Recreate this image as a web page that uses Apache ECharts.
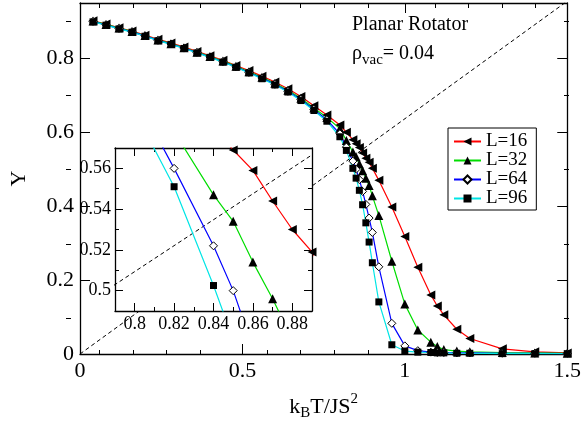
<!DOCTYPE html>
<html>
<head>
<meta charset="utf-8">
<script src="https://cdn.jsdelivr.net/npm/echarts@6/dist/echarts.min.js"></script>
<style>
  html, body { margin: 0; padding: 0; background: #fff; }
  #chart { width: 584px; height: 426px; }
</style>
</head>
<body>
<div id="chart"></div>
<script>
// temperature points (k_B T / J S^2), shared by all four sizes
const temps = [0.04, 0.08, 0.12, 0.16, 0.20, 0.24, 0.28, 0.32, 0.36, 0.40,
  0.44, 0.48, 0.52, 0.56, 0.60, 0.64, 0.68, 0.72, 0.76, 0.80,
  0.82, 0.84, 0.85, 0.86, 0.87, 0.88, 0.89, 0.90, 0.92, 0.96,
  1.00, 1.04, 1.08, 1.10, 1.12, 1.16, 1.20, 1.30, 1.40, 1.50]

// helicity modulus Y for each lattice size
const yL16 = [0.902, 0.893, 0.883, 0.874, 0.863, 0.852, 0.842, 0.831, 0.819, 0.807,
  0.795, 0.781, 0.767, 0.752, 0.736, 0.718, 0.697, 0.672, 0.647, 0.620,
  0.600, 0.580, 0.569, 0.559, 0.544, 0.530, 0.519, 0.503, 0.470, 0.398,
  0.318, 0.235, 0.160, 0.130, 0.106, 0.067, 0.042, 0.014, 0.006, 0.003]
const yL32 = [0.901, 0.892, 0.882, 0.873, 0.862, 0.850, 0.840, 0.829, 0.817, 0.805,
  0.793, 0.779, 0.764, 0.749, 0.733, 0.714, 0.692, 0.666, 0.640, 0.610,
  0.578, 0.547, 0.534, 0.514, 0.496, 0.476, 0.456, 0.428, 0.375, 0.251,
  0.135, 0.065, 0.032, 0.020, 0.012, 0.008, 0.006, 0.004, 0.003, 0.002]
const yL64 = [0.900, 0.891, 0.881, 0.872, 0.861, 0.849, 0.839, 0.828, 0.816, 0.804,
  0.791, 0.777, 0.762, 0.747, 0.730, 0.711, 0.689, 0.662, 0.634, 0.596,
  0.560, 0.522, 0.500, 0.472, 0.440, 0.405, 0.368, 0.329, 0.236, 0.083,
  0.022, 0.009, 0.005, 0.004, 0.004, 0.003, 0.003, 0.002, 0.002, 0.001]
const yL96 = [0.899, 0.890, 0.880, 0.871, 0.860, 0.848, 0.838, 0.827, 0.815, 0.803,
  0.790, 0.776, 0.761, 0.745, 0.728, 0.709, 0.686, 0.659, 0.630, 0.588,
  0.551, 0.5025, 0.476, 0.443, 0.404, 0.355, 0.303, 0.247, 0.141, 0.025,
  0.008, 0.005, 0.004, 0.003, 0.003, 0.002, 0.002, 0.001, 0.001, 0.001]

// universal jump line Y = 2T/pi, end points
const jumpT = [0, 1.5]
const jumpY = [0, 0.955]

// tick positions
const mainXMajor = [0, 0.5, 1, 1.5]
const mainXMinor = [0.1, 0.2, 0.3, 0.4, 0.6, 0.7, 0.8, 0.9, 1.1, 1.2, 1.3, 1.4]
const mainYMajor = [0, 0.2, 0.4, 0.6, 0.8]
const mainYMinor = [0.1, 0.3, 0.5, 0.7, 0.9]
const insetXMajor = [0.8, 0.82, 0.84, 0.86, 0.88]
const insetXMinor = [0.81, 0.83, 0.85, 0.87]
const insetYMajor = [0.5, 0.52, 0.54, 0.56]
const insetYMinor = [0.51, 0.53, 0.55]

const serif = '"Liberation Serif", "DejaVu Serif", serif'
const chart = echarts.init(document.getElementById('chart'))

function axis (o) {
  return {
    type: 'value',
    gridIndex: o.grid,
    position: o.pos,
    min: o.min,
    max: o.max,
    z: o.z || 0,
    axisLine: { show: !!o.line, onZero: false, lineStyle: { color: '#000', width: 1.3 } },
    axisTick: { show: true, inside: true, length: o.len, customValues: o.ticks, lineStyle: { color: '#000', width: 1 } },
    axisLabel: o.labels
      ? { show: true, customValues: o.ticks, margin: o.margin, color: '#000', fontFamily: serif, fontSize: o.fs }
      : { show: false },
    splitLine: { show: false },
    name: o.name || '',
    nameLocation: 'middle',
    nameGap: o.nameGap,
    nameTextStyle: o.nameStyle
  }
}

const leftTri = 'path://M0,5L10,0L10,10Z'

function curve (name, ys, color, symbol, size, fill, idx, z) {
  return {
    type: 'line',
    name: name,
    xAxisIndex: idx,
    yAxisIndex: idx,
    data: temps.map((t, i) => [t, ys[i]]),
    symbol: symbol,
    symbolSize: size,
    z: z,
    lineStyle: { color: color, width: 1.2 },
    itemStyle: { color: fill, borderColor: '#000', borderWidth: fill === '#fff' ? 1 : 0 },
    emphasis: { disabled: true }
  }
}

function jump (idx, z) {
  return {
    type: 'line',
    xAxisIndex: idx,
    yAxisIndex: idx,
    data: jumpT.map((t, i) => [t, jumpY[i]]),
    symbol: 'none',
    z: z,
    lineStyle: { color: '#000', width: 1, type: [4, 3] },
    emphasis: { disabled: true }
  }
}

const mainRect = { left: 66, top: 3, width: 503, height: 352 }
const insetRect = { left: 115, top: 148, width: 197, height: 163 }

const option = {
  animation: false,
  backgroundColor: '#fff',
  title: [
    { text: 'Planar Rotator', left: 352, top: 15, padding: 0,
      textStyle: { fontFamily: serif, fontSize: 20, fontWeight: 'normal', color: '#000' } },
    { text: '{r|ρ}{s|vac}{r|= 0.04}', left: 352, top: 44, padding: 0,
      textStyle: { fontFamily: serif, fontSize: 20, fontWeight: 'normal', color: '#000',
        rich: {
          r: { fontFamily: serif, fontSize: 20, color: '#000', verticalAlign: 'top' },
          s: { fontFamily: serif, fontSize: 15, color: '#000', verticalAlign: 'top', padding: [9, 0, 0, 0] }
        } } }
  ],
  legend: {
    data: ['L=16', 'L=32', 'L=64', 'L=96'],
    orient: 'vertical',
    left: 448,
    top: 128,
    padding: [4, 9, 2, 5],
    itemGap: 0,
    itemWidth: 27,
    itemHeight: 10,
    borderColor: '#000',
    borderWidth: 1,
    borderRadius: 0,
    backgroundColor: '#fff',
    selectedMode: false,
    textStyle: { fontFamily: serif, fontSize: 19, color: '#000', lineHeight: 19 }
  },
  grid: [
    Object.assign({ show: false }, mainRect),
    Object.assign({ show: false }, mainRect),
    Object.assign({ show: true, backgroundColor: '#fff', borderWidth: 0, z: 5 }, insetRect),
    Object.assign({ show: false, z: 5 }, insetRect)
  ],
  xAxis: [
    axis({ grid: 0, pos: 'bottom', min: 0, max: 1.5, line: true, len: 10, ticks: mainXMajor, labels: true, fs: 22, margin: 6,
      name: '{a|k}{b|B}{a|T/JS}{c|2}', nameGap: 42,
      nameStyle: { rich: {
        a: { fontFamily: serif, fontSize: 22, color: '#000', verticalAlign: 'top' },
        b: { fontFamily: serif, fontSize: 15, color: '#000', verticalAlign: 'top', padding: [10, 0, 0, 0] },
        c: { fontFamily: serif, fontSize: 15, color: '#000', verticalAlign: 'top', padding: [-4, 0, 0, 0] }
      } } }),
    axis({ grid: 0, pos: 'top', min: 0, max: 1.5, line: true, len: 10, ticks: mainXMajor }),
    axis({ grid: 1, pos: 'bottom', min: 0, max: 1.5, len: 5, ticks: mainXMinor }),
    axis({ grid: 1, pos: 'top', min: 0, max: 1.5, len: 5, ticks: mainXMinor }),
    axis({ grid: 2, pos: 'bottom', min: 0.79, max: 0.89, line: true, len: 8, ticks: insetXMajor, labels: true, fs: 18, margin: 4, z: 6 }),
    axis({ grid: 2, pos: 'top', min: 0.79, max: 0.89, line: true, len: 8, ticks: insetXMajor, z: 6 }),
    axis({ grid: 3, pos: 'bottom', min: 0.79, max: 0.89, len: 4, ticks: insetXMinor, z: 6 }),
    axis({ grid: 3, pos: 'top', min: 0.79, max: 0.89, len: 4, ticks: insetXMinor, z: 6 })
  ],
  yAxis: [
    axis({ grid: 0, pos: 'left', min: 0, max: 0.95, line: true, len: 10, ticks: mainYMajor, labels: true, fs: 22, margin: 6,
      name: 'Y', nameGap: 50, nameStyle: { fontFamily: serif, fontSize: 22, color: '#000' } }),
    axis({ grid: 0, pos: 'right', min: 0, max: 0.95, line: true, len: 10, ticks: mainYMajor }),
    axis({ grid: 1, pos: 'left', min: 0, max: 0.95, len: 5, ticks: mainYMinor }),
    axis({ grid: 1, pos: 'right', min: 0, max: 0.95, len: 5, ticks: mainYMinor }),
    axis({ grid: 2, pos: 'left', min: 0.49, max: 0.57, line: true, len: 8, ticks: insetYMajor, labels: true, fs: 18, margin: 4, z: 6 }),
    axis({ grid: 2, pos: 'right', min: 0.49, max: 0.57, line: true, len: 8, ticks: insetYMajor, z: 6 }),
    axis({ grid: 3, pos: 'left', min: 0.49, max: 0.57, len: 4, ticks: insetYMinor, z: 6 }),
    axis({ grid: 3, pos: 'right', min: 0.49, max: 0.57, len: 4, ticks: insetYMinor, z: 6 })
  ],
  series: [
    jump(0, 1),
    curve('L=16', yL16, '#ff0000', leftTri, 9, '#000', 0, 2),
    curve('L=32', yL32, '#00dd00', 'triangle', 9, '#000', 0, 2),
    curve('L=64', yL64, '#0000ff', 'diamond', 8, '#fff', 0, 2),
    curve('L=96', yL96, '#00e5e5', 'rect', 7, '#000', 0, 2),
    jump(4, 6),
    curve('L=16', yL16, '#ff0000', leftTri, 9, '#000', 4, 7),
    curve('L=32', yL32, '#00dd00', 'triangle', 9, '#000', 4, 7),
    curve('L=64', yL64, '#0000ff', 'diamond', 8, '#fff', 4, 7),
    curve('L=96', yL96, '#00e5e5', 'rect', 7, '#000', 4, 7)
  ]
}

chart.setOption(option)
</script>
</body>
</html>
